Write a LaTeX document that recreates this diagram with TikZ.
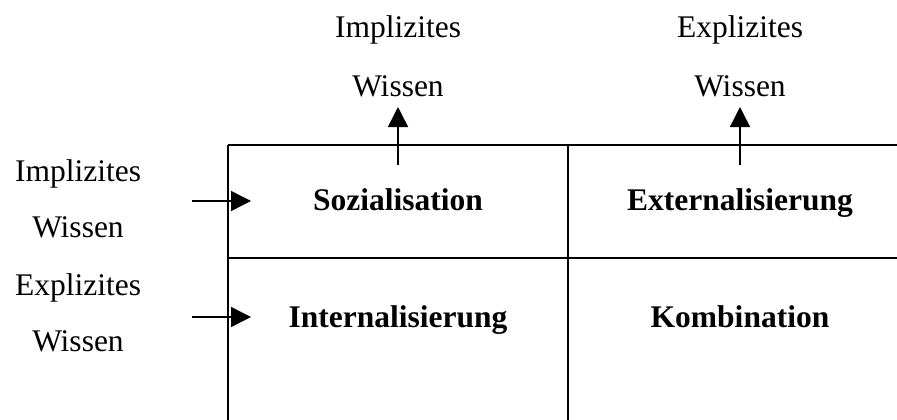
\documentclass[tikz,border=0pt]{standalone}
\usepackage{fontspec}
\setmainfont{Liberation Serif}
\usetikzlibrary{arrows.meta}
\begin{document}
\begin{tikzpicture}[x=1pt,y=-1pt,
  lbl/.style={inner sep=0pt, anchor=base, font=\fontsize{31.5}{31.5}\selectfont},
  cell/.style={inner sep=0pt, anchor=base, font=\fontsize{31.5}{31.5}\selectfont\bfseries},
  grid/.style={line width=2.8pt},
  arr/.style={line width=1.4pt, -{Triangle[length=20pt,width=20pt]}}]
\useasboundingbox (0,0) rectangle (897,420);
% grid
\coordinate (tl) at (228,145);
\coordinate (tr) at (897,145);
\coordinate (ml) at (228,258);
\coordinate (mr) at (897,258);
\coordinate (bl) at (228,420);
\coordinate (tm) at (568,145);
\coordinate (bm) at (568,420);
\draw[grid] (tl) -- (tr);
\draw[grid] (ml) -- (mr);
\draw[grid] (tl) -- (bl);
\draw[grid] (tm) -- (bm);
% cell labels
\node[cell] (soz) at (398,210) {Sozialisation};
\node[cell] (ext) at (740,210) {Externalisierung};
\node[cell] (int) at (398,327) {Internalisierung};
\node[cell] (kom) at (740,327) {Kombination};
% top labels
\node[lbl] (t1a) at (398,38) {Implizites};
\node[lbl] (t1b) at (398,96) {Wissen};
\node[lbl] (t2a) at (740,38) {Explizites};
\node[lbl] (t2b) at (740,96) {Wissen};
% left labels
\node[lbl] (l1a) at (78,181) {Implizites};
\node[lbl] (l1b) at (78,237) {Wissen};
\node[lbl] (l2a) at (78,295) {Explizites};
\node[lbl] (l2b) at (78,351) {Wissen};
% arrows
\coordinate (u1s) at (398,165);
\coordinate (u1e) at (398,107);
\coordinate (u2s) at (740,165);
\coordinate (u2e) at (740,107);
\coordinate (a1s) at (192,201);
\coordinate (a1e) at (251,201);
\coordinate (a2s) at (192,317);
\coordinate (a2e) at (251,317);
\draw[arr] (u1s) -- (u1e);
\draw[arr] (u2s) -- (u2e);
\draw[arr] (a1s) -- (a1e);
\draw[arr] (a2s) -- (a2e);
\end{tikzpicture}
\end{document}
